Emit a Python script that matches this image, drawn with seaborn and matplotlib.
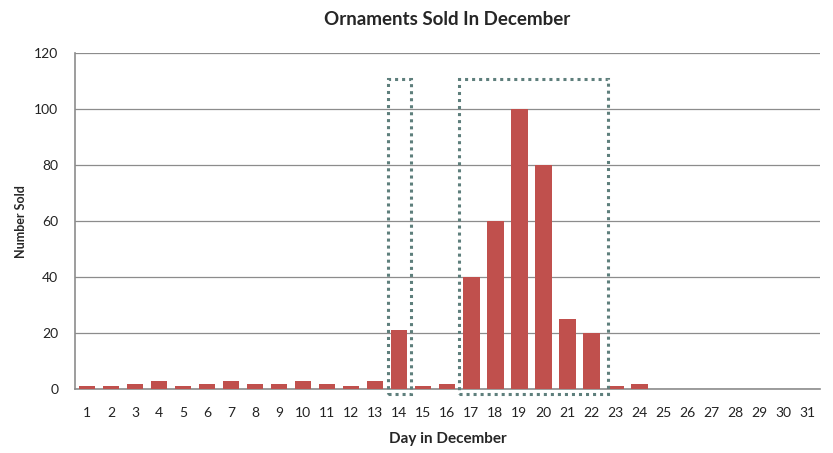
import pandas as pd
import matplotlib.pyplot as plt
import seaborn as sns
from matplotlib.patches import Rectangle

# daily ornament sales
days = [str(d) for d in range(1, 32)]
sold = [1, 1, 2, 3, 1, 2, 3, 2, 2, 3, 2, 1, 3, 21, 1, 2,
        40, 60, 100, 80, 25, 20, 1, 2, 0, 0, 0, 0, 0, 0, 0]

df = pd.DataFrame({"day": days, "sold": sold})

sns.set_theme(style="white")
plt.rcParams['font.family'] = ['Lato', 'DejaVu Sans']

fig = plt.figure(figsize=(8.33, 4.53), dpi=100)
ax = fig.add_axes([0.09, 0.141, 0.894, 0.742])

sns.barplot(data=df, x="day", y="sold", color="#C0504D", width=0.68,
            saturation=1, linewidth=0, edgecolor="none", ax=ax, zorder=3)

ax.set_ylim(0, 120)
ax.set_yticks(range(0, 121, 20))
ax.set_xlim(-0.5, 30.5)
ax.yaxis.grid(True, color="#8c8c8c", linewidth=0.9, zorder=0)
ax.set_axisbelow(True)
for s in ["top", "right"]:
    ax.spines[s].set_visible(False)
for s in ["left", "bottom"]:
    ax.spines[s].set_color("#8c8c8c")
    ax.spines[s].set_linewidth(1.2)
ax.tick_params(axis="both", length=0, labelsize=10, colors="#222222")
ax.tick_params(axis="x", pad=13)
ax.tick_params(axis="y", pad=12)

ax.set_title("Ornaments Sold In December", fontsize=13.5, fontweight="bold", pad=20)
ax.set_xlabel("Day in December", fontsize=11, fontweight="bold", labelpad=9)
ax.set_ylabel("Number Sold", fontsize=9, fontweight="bold", labelpad=5)

# dotted highlight boxes around the busy days
box_style = dict(fill=False, edgecolor="#5E7F7C", linewidth=2.2,
                 linestyle=(0, (1, 1.3)), clip_on=False, zorder=5)
ax.add_patch(Rectangle((12.54, -1.8), 0.96, 112.5, **box_style))
ax.add_patch(Rectangle((15.5, -1.8), 6.2, 112.5, **box_style))

fig.savefig("out.png", dpi=100)
